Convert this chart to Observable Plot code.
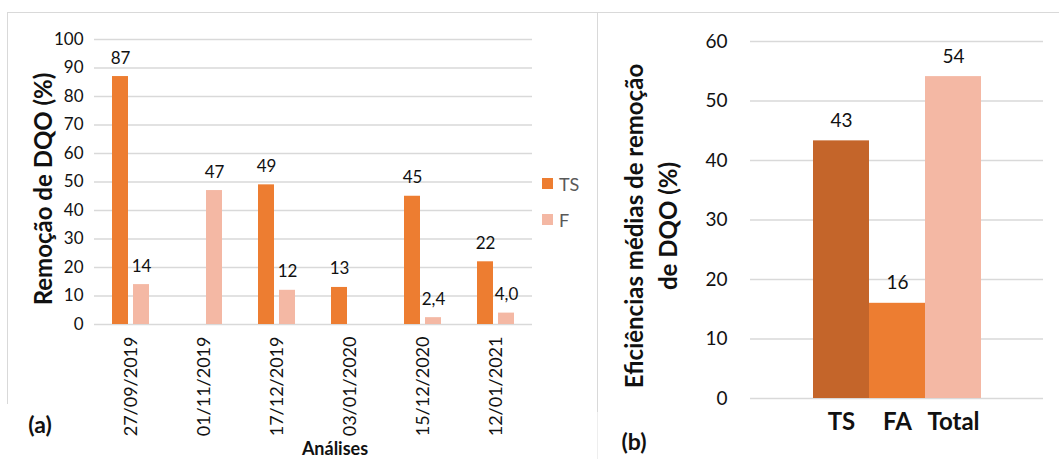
<!DOCTYPE html>
<html>
<head>
<meta charset="utf-8">
<script src="https://cdn.jsdelivr.net/npm/d3@7"></script>
<script src="https://cdn.jsdelivr.net/npm/@observablehq/plot@0.6"></script>
<style>
  body { margin: 0; background: #fff; }
  #wrap { position: relative; width: 1059px; height: 459px; background: #fff; overflow: hidden; font-family: Lato, "Open Sans", sans-serif; }
  .abs { position: absolute; white-space: nowrap; }
  .line { position: absolute; background: #d9d9d9; }
</style>
</head>
<body>
<div id="wrap"></div>
<script>
// ---- Data (a) ----
const dates = ["27/09/2019", "01/11/2019", "17/12/2019", "03/01/2020", "15/12/2020", "12/01/2021"];
const seriesNames = ["TS", "F"];
const tsValues = [87, null, 49, 13, 45, 22];
const fValues = [14, 47, 12, null, 2.4, 4.0];
const yTicksA = [0, 10, 20, 30, 40, 50, 60, 70, 80, 90, 100];

// ---- Data (b) ----
const avgCats = ["TS", "FA", "Total"];
const avgValues = [43.3, 16, 54.1];
const avgLabels = ["43", "16", "54"];
const yTicksB = [0, 10, 20, 30, 40, 50, 60];

const colorsA = ["#ED7D31", "#F4B8A4"];
const colorsB = ["#C4652A", "#ED7D31", "#F4B8A4"];
const gridColor = "#D9D9D9";

const fmt = v => v < 10 ? v.toFixed(1).replace(".", ",") : String(Math.round(v));

const rowsA = [];
dates.forEach((d, i) => {
  if (tsValues[i] != null) rowsA.push({date: d, series: "TS", value: tsValues[i]});
  if (fValues[i] != null) rowsA.push({date: d, series: "F", value: fValues[i]});
});
const rowsB = avgCats.map((c, i) => ({cat: c, value: avgValues[i], label: avgLabels[i]}));

const wrap = document.getElementById("wrap");

// frame lines
function line(l, t, w, h, color) {
  const e = document.createElement("div");
  e.className = "line";
  Object.assign(e.style, {left: l + "px", top: t + "px", width: w + "px", height: h + "px"});
  if (color) e.style.background = color;
  wrap.appendChild(e);
}
line(7, 12, 1052, 1);
line(7, 12, 1, 392);
line(597, 12, 1, 400);
line(597, 412, 1, 47, "#eeeeee");

// ---- Plot (a) ----
const plotA = Plot.plot({
  width: 597, height: 459,
  marginLeft: 94, marginRight: 65, marginTop: 39, marginBottom: 135,
  style: {fontFamily: "Lato, 'Open Sans', sans-serif", fontSize: "17px", color: "#111", background: "transparent"},
  fx: {domain: dates, padding: 0, label: null},
  x: {domain: seriesNames, paddingInner: 0.238, paddingOuter: 0.852, axis: null},
  y: {domain: [0, 100], label: null},
  color: {domain: seriesNames, range: colorsA},
  marks: [
    Plot.gridY(yTicksA, {stroke: gridColor, strokeOpacity: 1, strokeWidth: 1.6}),
    Plot.axisY(yTicksA, {tickSize: 0, tickPadding: 11, label: null, fontSize: 17}),
    Plot.axisFx({anchor: "bottom", tickRotate: -90, tickSize: 0, tickPadding: 12, label: null, fontSize: 18}),
    Plot.barY(rowsA, {fx: "date", x: "series", y: "value", fill: "series"}),
    Plot.text(rowsA, {fx: "date", x: "series", y: "value", text: d => fmt(d.value), lineAnchor: "bottom", dy: -13, fontSize: 17, fill: "#111"})
  ]
});
plotA.style.position = "absolute";
plotA.style.left = "0px";
plotA.style.top = "0px";
wrap.appendChild(plotA);

// ---- Plot (b) ----
const plotB = Plot.plot({
  width: 462, height: 459,
  marginLeft: 153, marginRight: 16, marginTop: 41, marginBottom: 61,
  style: {fontFamily: "Lato, 'Open Sans', sans-serif", fontSize: "19px", color: "#111", background: "transparent"},
  x: {domain: avgCats, range: [214.7, 384.7], padding: 0, label: null},
  y: {domain: [0, 60], label: null},
  color: {domain: avgCats, range: colorsB},
  marks: [
    Plot.gridY(yTicksB, {stroke: gridColor, strokeOpacity: 1, strokeWidth: 1.6}),
    Plot.axisY(yTicksB, {tickSize: 0, tickPadding: 23, label: null, fontSize: 19}),
    Plot.axisX({tickSize: 0, tickPadding: 14, label: null, fontSize: 24, fontWeight: "bold"}),
    Plot.barY(rowsB, {x: "cat", y: "value", fill: "cat"}),
    Plot.text(rowsB, {x: "cat", y: "value", text: "label", lineAnchor: "bottom", dy: -14, fontSize: 19, fill: "#111"})
  ]
});
plotB.style.position = "absolute";
plotB.style.left = "597px";
plotB.style.top = "0px";
wrap.appendChild(plotB);

// ---- HTML texts ----
function txt(html, l, t, css) {
  const e = document.createElement("div");
  e.className = "abs";
  e.innerHTML = html;
  Object.assign(e.style, {left: l + "px", top: t + "px"}, css || {});
  wrap.appendChild(e);
  return e;
}
txt("Remoção de DQO (%)", 42, 189, {fontWeight: "bold", fontSize: "24px", color: "#111", transform: "translate(-50%, -50%) rotate(-90deg)"});
txt("Eficiências médias de remoção<br>de DQO (%)", 651, 226, {fontWeight: "bold", fontSize: "24px", lineHeight: "34px", color: "#111", textAlign: "center", transform: "translate(-50%, -50%) rotate(-90deg)"});
txt("Análises", 335, 448, {fontWeight: "bold", fontSize: "18px", color: "#111", transform: "translate(-50%, -50%)"});
txt("(a)", 40, 424, {fontWeight: "bold", fontSize: "23px", color: "#111", transform: "translate(-50%, -50%)"});
txt("(b)", 634, 441, {fontWeight: "bold", fontSize: "23px", color: "#111", transform: "translate(-50%, -50%)"});

// legend
seriesNames.forEach((s, i) => {
  const y = 184 + i * 36;
  const sw = document.createElement("div");
  Object.assign(sw.style, {position: "absolute", left: "542px", top: (y - 6) + "px", width: "11px", height: "11px", background: colorsA[i]});
  wrap.appendChild(sw);
  txt(s, 559, y, {fontSize: "18px", color: "#595959", transform: "translateY(-50%)"});
});
</script>
</body>
</html>
